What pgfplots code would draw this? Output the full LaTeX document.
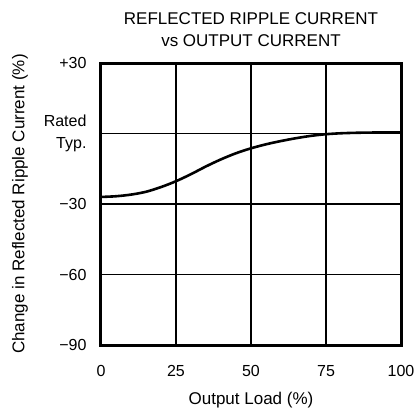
\documentclass[border=0pt]{standalone}
\usepackage{pgfplots}
\pgfplotsset{compat=1.18}
\usepackage{fontspec}
\setmainfont{Liberation Sans}
\begin{document}
\begin{tikzpicture}
\begin{axis}[
 scale only axis, width=300pt, height=282pt,
 xmin=0,xmax=100,ymin=-90,ymax=30,
 xtick={0,25,50,75,100}, ytick={-90,-60,-30,0,30},
 xticklabels={0,25,50,75,100},
 yticklabels={−90,−60,−30,{Rated\\Typ.},+30},
 /pgf/number format/assume math mode=true,
 ticklabel style={font=\fontsize{16}{22}\selectfont},
 yticklabel style={align=right, xshift=-11pt},
 xticklabel style={yshift=-17pt},
 grid=major, major grid style={black, line width=1.1pt},
 axis line style={line width=3pt},
 major tick length=0pt,
 title={REFLECTED RIPPLE CURRENT\\vs OUTPUT CURRENT},
 title style={align=center, font=\fontsize{17}{22}\selectfont, yshift=7pt},
 xlabel={Output Load (\%)}, ylabel={Change in Reflected Ripple Current (\%)},
 label style={font=\fontsize{17}{19}\selectfont},
 xlabel style={yshift=-8pt},
 ylabel style={yshift=9pt},
 clip=false,
]
\addplot[black, line width=2.6pt, forget plot] coordinates {(0,-30) (100,-30)};
\addplot[black, line width=2.6pt, smooth] coordinates {
(0,-27) (5,-26.7) (10,-26) (15,-24.8) (20,-22.8) (25,-20.3) (30,-17.3) (35,-14) (40,-11) (45,-8.4) (50,-6.3) (55,-4.6) (60,-3.2) (65,-2) (70,-1) (75,-0.3) (80,0.1) (85,0.3) (90,0.4) (100,0.5)};
\coordinate (o) at (rel axis cs:0,0);
\end{axis}
\pgfresetboundingbox
\useasboundingbox (o) ++(-101pt,-68pt) rectangle ++(414pt,413pt);
\end{tikzpicture}
\end{document}
